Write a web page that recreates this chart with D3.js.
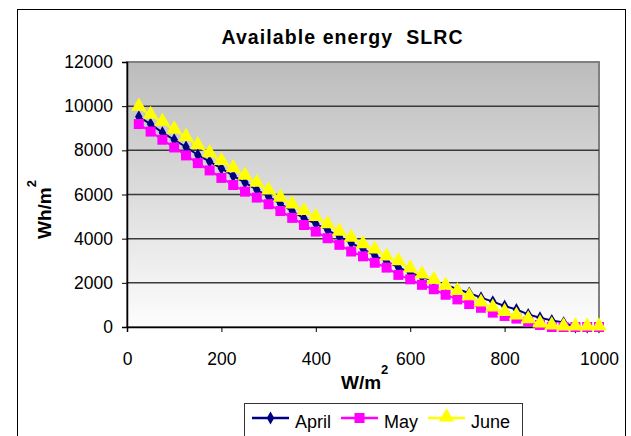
<!DOCTYPE html>
<html>
<head>
<meta charset="utf-8">
<script src="https://cdn.jsdelivr.net/npm/d3@7"></script>
<style>
	body{margin:0;background:#fff;}
	svg{display:block;font-family:'Liberation Sans',Arial,sans-serif;}
</style>
</head>
<body>
<div id="chart"></div>
<script>
// irradiance levels (W/m2)
const levels = [25,50,75,100,125,150,175,200,225,250,275,300,325,350,375,400,425,450,475,500,
	525,550,575,600,625,650,675,700,725,750,775,800,825,850,875,900,925,950,975,1000];
// available energy (Wh/m2) per month
const april = [9520,9190,8800,8480,8150,7790,7490,7180,6840,6540,6210,5900,5580,5250,4920,4680,4390,4090,3800,3540,
	3230,2960,2700,2460,2260,2090,1920,1710,1540,1330,1150,950,790,570,420,300,200,0,0,0];
const may = [9190,8850,8480,8130,7770,7420,7090,6750,6430,6130,5860,5560,5250,4940,4620,4320,4020,3720,3420,3200,
	2910,2690,2360,2160,1910,1710,1460,1250,1040,870,650,500,380,240,90,0,0,0,0,0];
const june = [9950,9580,9270,8920,8580,8210,7840,7490,7160,6820,6500,6150,5830,5520,5220,4950,4620,4290,4010,3720,
	3480,3160,2950,2620,2350,2100,1840,1600,1360,1080,850,650,490,320,130,45,0,0,0,0];
const seriesNames = ['April','May','June'];
const seriesColors = ['#000080','#ff00ff','#ffff00'];
const xTicks = [0,200,400,600,800,1000];
const yTicks = [0,2000,4000,6000,8000,10000,12000];

const _W = 631, _H = 436;
const _svg = d3.select('#chart').append('svg').attr('width',_W).attr('height',_H);

const _scaleX = d3.scaleLinear().domain([0,1000]).range([127,599]),
	_scaleY = d3.scaleLinear().domain([0,12000]).range([327,62]);

// outer frame
_svg.append('rect')
	.attr('x',17.5).attr('y',9.5)
	.attr('width',608).attr('height',445)
	.style('fill','#fff').style('stroke','#000').style('stroke-width','1px');

// plot background gradient
const grad = _svg.append('defs').append('linearGradient')
	.attr('id','bg').attr('x1',0).attr('x2',0).attr('y1',0).attr('y2',1);
grad.append('stop').attr('offset','0%').attr('stop-color','#bcbcbc');
grad.append('stop').attr('offset','100%').attr('stop-color','#fdfdfd');

_svg.append('rect')
	.attr('x',_scaleX(0)).attr('y',_scaleY(12000))
	.attr('width',_scaleX(1000)-_scaleX(0))
	.attr('height',_scaleY(0)-_scaleY(12000))
	.style('fill','url(#bg)')
	.style('stroke','#808080').style('stroke-width','2px');

// gridlines
_svg.append('g').selectAll('line')
	.data(yTicks.filter(d=>d>0 && d<12000))
	.enter().append('line')
	.attr('x1',_scaleX(0)).attr('x2',_scaleX(1000))
	.attr('y1',d=>_scaleY(d)).attr('y2',d=>_scaleY(d))
	.style('stroke','#3a3a3a').style('stroke-width','1.5px');

// axes
const axisY = _svg.append('g')
	.attr('transform',`translate(${_scaleX(0)},0)`)
	.call(d3.axisLeft(_scaleY).tickValues(yTicks).tickSize(5).tickPadding(10).tickFormat(d3.format('d')));
const axisX = _svg.append('g')
	.attr('transform',`translate(0,${_scaleY(0)})`)
	.call(d3.axisBottom(_scaleX).tickValues(xTicks).tickSize(5).tickPadding(21).tickFormat(d3.format('d')));
[axisY,axisX].forEach(a=>{
	a.select('.domain').style('stroke','#000').style('stroke-width','1.5px');
	a.selectAll('.tick line').style('stroke','#000').style('stroke-width','1px');
	a.selectAll('.tick text')
		.style('font-family',"'Liberation Sans',Arial,sans-serif")
		.style('font-size','17.5px').style('fill','#000');
});
axisY.selectAll('.tick text').attr('x',-14);

// series
const allSeries = [april,may,june].map((vals,i)=>({
	name:seriesNames[i],
	color:seriesColors[i],
	points:vals.map((v,j)=>({x:levels[j],y:v}))
}));

const symbols = [d3.symbolDiamond, d3.symbolSquare, d3.symbolTriangle];
const symbolSizes = [48, 100, 100];

const line = d3.line().x(d=>_scaleX(d.x)).y(d=>_scaleY(d.y));

const series = _svg.append('g').selectAll('.series')
	.data(allSeries)
	.enter().append('g').attr('class','series');
series.append('path')
	.attr('d',d=>line(d.points))
	.style('fill','none')
	.style('stroke',d=>d.color)
	.style('stroke-width','2px');
series.each(function(s,i){
	d3.select(this).selectAll('.mark')
		.data(s.points)
		.enter().append('path').attr('class','mark')
		.attr('transform',d=>`translate(${_scaleX(d.x)},${_scaleY(d.y)+(i===2?-1:0)})`)
		.attr('d',d3.symbol().type(symbols[i]).size(symbolSizes[i]))
		.style('fill',s.color);
});

// title
_svg.append('text')
	.attr('x',342).attr('y',43.5)
	.attr('text-anchor','middle')
	.style('white-space','pre')
	.style('font-weight','bold').style('font-size','19.5px')
	.attr('textLength',241).attr('lengthAdjust','spacing')
	.text('Available energy  SLRC');

// axis titles
const xt = _svg.append('text')
	.attr('x',341).attr('y',389)
	.style('font-weight','bold').style('font-size','19px');
xt.append('tspan').text('W/m');
xt.append('tspan').attr('dy',-15).style('font-size','13px').text('2');

const yt = _svg.append('text')
	.attr('transform','translate(51,239) rotate(-90)')
	.style('font-weight','bold').style('font-size','19px');
yt.append('tspan').text('Wh/m');
yt.append('tspan').attr('dy',-15).style('font-size','13px').text('2');

// legend
const legend = _svg.append('g');
legend.append('rect')
	.attr('x',244.5).attr('y',403.5)
	.attr('width',278).attr('height',50)
	.style('fill','#fff').style('stroke','#333').style('stroke-width','1px');
const legendX = [252,341,428];
const li = legend.selectAll('.item')
	.data(allSeries)
	.enter().append('g').attr('class','item')
	.attr('transform',(d,i)=>`translate(${legendX[i]},418)`);
li.append('line')
	.attr('x1',0).attr('x2',37)
	.style('stroke',d=>d.color).style('stroke-width','2.5px');
li.append('path')
	.attr('transform',(d,i)=>`translate(18.5,${i===2?-1:0})`)
	.attr('d',(d,i)=>d3.symbol().type(symbols[i]).size(symbolSizes[i])())
	.style('fill',d=>d.color);
li.append('text')
	.attr('x',43).attr('y',10)
	.style('font-size','18px')
	.text(d=>d.name);
</script>
</body>
</html>
